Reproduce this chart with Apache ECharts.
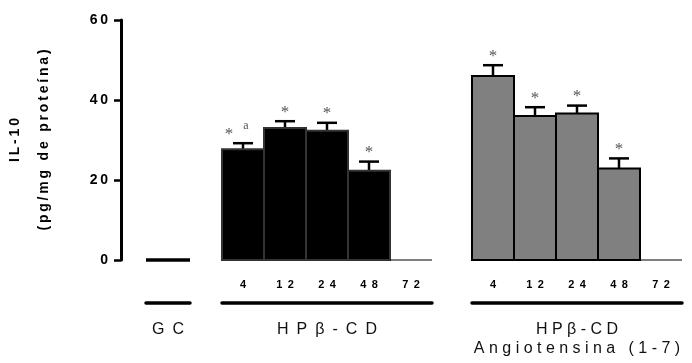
<!DOCTYPE html>
<html>
<head>
<meta charset="utf-8">
<script src="https://cdn.jsdelivr.net/npm/echarts@6/dist/echarts.min.js"></script>
<style>
  html, body { margin: 0; padding: 0; background: #fff; }
  #chart { width: 692px; height: 363px; }
</style>
</head>
<body>
<div id="chart"></div>
<script>
// data
var hours = ['4', '12', '24', '48', '72'];
var gcValues = [0];
var hpValues = [27.7, 33, 32.3, 22.3, 0];
var hpErrors = [1.5, 1.7, 2.0, 2.3, 0];
var hpMarks = ['*a', '*', '*', '*', ''];
var angValues = [46, 36, 36.6, 22.9, 0];
var angErrors = [2.7, 2.2, 2.0, 2.5, 0];
var angMarks = ['*', '*', '*', '*', ''];
var yMin = 0, yMax = 60, yStep = 20;
var groupNames = ['GC', 'HPβ-CD', 'HPβ-CD\nAngiotensina (1-7)'];

var FONT = '"Liberation Sans", Arial, sans-serif';

// wide letter spacing like the original figure
function spaced(s, sep) {
  return s.split('\n').map(function (line) {
    return line.split('').join(sep);
  }).join('\n');
}

function barRenderer(fill, stroke, errs, marks) {
  return function (params, api) {
    var i = params.dataIndex;
    var v = api.value(1);
    var base = api.coord([api.value(0), 0]);
    var top = api.coord([api.value(0), v]);
    var w = api.size([1, 0])[0];
    var cx = base[0];
    var x0 = cx - w / 2;
    var kids = [];
    if (v === 0) {
      kids.push({
        type: 'line',
        shape: { x1: x0, y1: base[1], x2: x0 + w, y2: base[1] },
        style: { stroke: '#000', lineWidth: 1.2 }
      });
      return { type: 'group', children: kids };
    }
    var capY = api.coord([api.value(0), v + errs[i]])[1];
    kids.push({
      type: 'line',
      shape: { x1: cx, y1: top[1], x2: cx, y2: capY },
      style: { stroke: '#000', lineWidth: 2.5 }
    });
    kids.push({
      type: 'line',
      shape: { x1: cx - 10, y1: capY, x2: cx + 10, y2: capY },
      style: { stroke: '#000', lineWidth: 2.5 }
    });
    kids.push({
      type: 'rect',
      shape: { x: x0, y: top[1], width: w, height: base[1] - top[1] },
      style: { fill: fill, stroke: stroke, lineWidth: 2 }
    });
    var m = marks[i];
    if (m) {
      var star = m.charAt(0);
      var extra = m.slice(1);
      kids.push({
        type: 'text',
        style: {
          text: star, x: extra ? cx - 14 : cx, y: capY - 9,
          align: 'center', verticalAlign: 'middle',
          font: '17px "Liberation Serif", "Times New Roman", serif',
          fill: '#555'
        }
      });
      if (extra) {
        kids.push({
          type: 'text',
          style: {
            text: extra, x: cx + 3, y: capY - 17,
            align: 'center', verticalAlign: 'middle',
            font: '12px "Liberation Serif", "Times New Roman", serif',
            fill: '#555'
          }
        });
      }
    }
    return { type: 'group', children: kids };
  };
}

function toData(vals, errs) {
  return vals.map(function (v, i) { return [i, v, errs ? errs[i] : 0]; });
}

var chart = echarts.init(document.getElementById('chart'));

var grids = [
  { left: 143, width: 47, top: 20, bottom: 103 },
  { left: 222, width: 210, top: 20, bottom: 103 },
  { left: 472, width: 210, top: 20, bottom: 103 }
];

var xAxes = [];
var yAxes = [];
var groupCats = [['GC'], hours, hours];
groupCats.forEach(function (cats, g) {
  xAxes.push({
    type: 'category', gridIndex: g, data: cats,
    axisLine: { show: false }, axisTick: { show: false },
    axisLabel: {
      show: g > 0, margin: 19,
      color: '#000', fontWeight: 'bold', fontSize: 11, fontFamily: FONT,
      formatter: function (s) { return spaced(s, '\u2002'); }
    }
  });
  // group bracket under the hour labels
  xAxes.push({
    type: 'category', gridIndex: g, data: cats, position: 'bottom', offset: 43,
    axisLine: { show: true, lineStyle: { color: '#000', width: 3.5 } },
    axisTick: { show: false }, axisLabel: { show: false },
    name: spaced(groupNames[g], g === 2 ? ' ' : '\u2002'),
    nameLocation: 'middle', nameGap: 17,
    nameTextStyle: {
      color: '#111', fontSize: 16, fontFamily: FONT, lineHeight: 19
    }
  });
  yAxes.push({
    type: 'value', gridIndex: g, min: yMin, max: yMax, interval: yStep,
    show: g === 0,
    offset: 25,
    splitLine: { show: false },
    axisLine: { show: true, lineStyle: { color: '#000', width: 3 } },
    axisTick: { show: true, length: 7, lineStyle: { color: '#000', width: 2.5 } },
    axisLabel: {
      margin: 13, color: '#000', fontWeight: 'bold', fontSize: 14, fontFamily: FONT,
      formatter: function (v) { return spaced(String(v), '\u2009'); }
    },
    name: spaced('IL-10', '\u2009') + '\n' + spaced('(pg/mg de proteína)', '\u2009'),
    nameLocation: 'middle', nameRotate: 90, nameGap: 62,
    nameTextStyle: {
      color: '#000', fontWeight: 'bold', fontSize: 14, fontFamily: FONT, lineHeight: 29
    }
  });
});

chart.setOption({
  animation: false,
  grid: grids,
  xAxis: xAxes,
  yAxis: yAxes,
  series: [
    {
      type: 'custom', xAxisIndex: 0, yAxisIndex: 0,
      renderItem: function (params, api) {
        var base = api.coord([api.value(0), 0]);
        var w = api.size([1, 0])[0];
        return {
          type: 'line',
          shape: { x1: base[0] - w / 2, y1: base[1], x2: base[0] + w / 2, y2: base[1] },
          style: { stroke: '#000', lineWidth: 3.5 }
        };
      },
      data: toData(gcValues)
    },
    {
      type: 'custom', xAxisIndex: 2, yAxisIndex: 1,
      renderItem: barRenderer('#000', '#333', hpErrors, hpMarks),
      data: toData(hpValues, hpErrors)
    },
    {
      type: 'custom', xAxisIndex: 4, yAxisIndex: 2,
      renderItem: barRenderer('#808080', '#000', angErrors, angMarks),
      data: toData(angValues, angErrors)
    }
  ]
});
window.addEventListener('resize', function () { chart.resize(); });
</script>
</body>
</html>
